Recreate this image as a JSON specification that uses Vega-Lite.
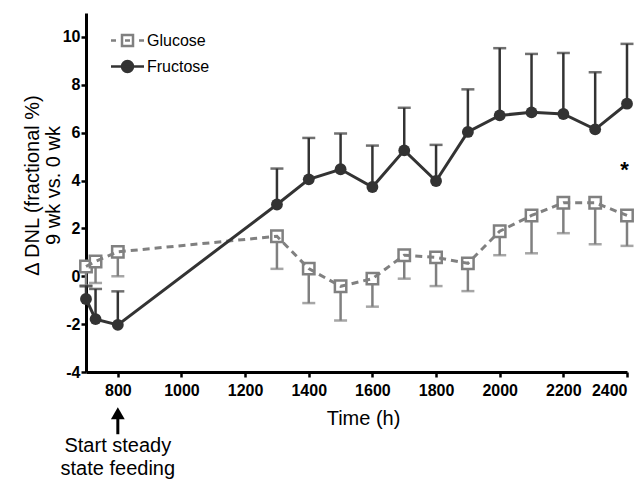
{
  "$schema": "https://vega.github.io/schema/vega-lite/v6.json",
  "autosize": "none",
  "width": 541,
  "height": 359,
  "padding": {"left": 86, "top": 13, "right": 17, "bottom": 109},
  "background": "white",
  "config": {
    "view": {"stroke": null},
    "font": "Liberation Sans",
    "axis": {
      "domainColor": "black", "domainWidth": 3, "tickColor": "black", "tickWidth": 2.5, "tickSize": 5,
      "labelFont": "Liberation Sans", "labelFontSize": 16, "labelFontWeight": "bold", "labelColor": "black",
      "titleFont": "Liberation Sans", "titleFontSize": 20, "titleFontWeight": "normal", "titleColor": "black",
      "grid": false
    }
  },
  "datasets": {
    "dnl": [
      {"series": "Glucose", "time": 700, "mean": 0.41, "err": -0.38},
      {"series": "Glucose", "time": 730, "mean": 0.62, "err": -0.28},
      {"series": "Glucose", "time": 800, "mean": 1.02, "err": 0.0},
      {"series": "Glucose", "time": 1300, "mean": 1.67, "err": 0.31},
      {"series": "Glucose", "time": 1400, "mean": 0.32, "err": -1.12},
      {"series": "Glucose", "time": 1500, "mean": -0.42, "err": -1.85},
      {"series": "Glucose", "time": 1600, "mean": -0.10, "err": -1.27},
      {"series": "Glucose", "time": 1700, "mean": 0.88, "err": -0.10},
      {"series": "Glucose", "time": 1800, "mean": 0.79, "err": -0.41},
      {"series": "Glucose", "time": 1900, "mean": 0.54, "err": -0.62},
      {"series": "Glucose", "time": 2000, "mean": 1.88, "err": 0.88},
      {"series": "Glucose", "time": 2100, "mean": 2.54, "err": 0.96},
      {"series": "Glucose", "time": 2200, "mean": 3.07, "err": 1.80},
      {"series": "Glucose", "time": 2300, "mean": 3.07, "err": 1.34},
      {"series": "Glucose", "time": 2400, "mean": 2.54, "err": 1.27},
      {"series": "Fructose", "time": 700, "mean": -0.95, "err": -0.42},
      {"series": "Fructose", "time": 730, "mean": -1.79, "err": -0.53},
      {"series": "Fructose", "time": 800, "mean": -2.03, "err": -0.63},
      {"series": "Fructose", "time": 1300, "mean": 3.0, "err": 4.5},
      {"series": "Fructose", "time": 1400, "mean": 4.05, "err": 5.78},
      {"series": "Fructose", "time": 1500, "mean": 4.47, "err": 5.96},
      {"series": "Fructose", "time": 1600, "mean": 3.73, "err": 5.46},
      {"series": "Fructose", "time": 1700, "mean": 5.26, "err": 7.04},
      {"series": "Fructose", "time": 1800, "mean": 3.98, "err": 5.49},
      {"series": "Fructose", "time": 1900, "mean": 6.03, "err": 7.81},
      {"series": "Fructose", "time": 2000, "mean": 6.72, "err": 9.53},
      {"series": "Fructose", "time": 2100, "mean": 6.85, "err": 9.29},
      {"series": "Fructose", "time": 2200, "mean": 6.78, "err": 9.33},
      {"series": "Fructose", "time": 2300, "mean": 6.14, "err": 8.52},
      {"series": "Fructose", "time": 2400, "mean": 7.21, "err": 9.71}
    ],
    "star": [{"time": 2392, "y": 4.45, "label": "*"}],
    "note": [{"time": 800, "y": -7.1, "yarrow": -5.72, "ys1": -5.93, "ys2": -6.6, "label": ["Start steady", "state feeding"]}]
  },
  "layer": [
    {
      "data": {"name": "dnl"},
      "transform": [{"filter": "datum.series === 'Glucose'"}],
      "mark": {"type": "rule", "color": "#808080", "strokeWidth": 2.5},
      "encoding": {
        "x": {"field": "time", "type": "quantitative", "scale": {"domain": [700, 2400], "nice": false, "zero": false},
              "axis": {"values": [800, 1000, 1200, 1400, 1600, 1800, 2000, 2200, 2400], "format": "d", "labelPadding": 5, "title": "Time (h)", "titleX": 277, "titleY": 46, "titleBaseline": "middle"}},
        "y": {"field": "mean", "type": "quantitative", "scale": {"domain": [-4, 11], "nice": false, "zero": false},
              "axis": {"values": [-4, -2, 0, 2, 4, 6, 8, 10], "labelExpr": "'' + datum.value", "labelPadding": 1, "title": ["Δ DNL (fractional %)", "9 wk vs. 0 wk"], "titleAngle": -90, "titleX": -54, "titleY": 172, "titleBaseline": "middle", "titleAlign": "center", "titleLineHeight": 21.5}},
        "y2": {"field": "err"}
      }
    },
    {
      "data": {"name": "dnl"},
      "transform": [{"filter": "datum.series === 'Glucose'"}],
      "mark": {"type": "tick", "orient": "horizontal", "color": "#808080", "size": 13, "thickness": 2.5},
      "encoding": {
        "x": {"field": "time", "type": "quantitative"},
        "y": {"field": "err", "type": "quantitative"}
      }
    },
    {
      "data": {"name": "dnl"},
      "transform": [{"filter": "datum.series === 'Fructose'"}],
      "mark": {"type": "rule", "color": "#333333", "strokeWidth": 2.5},
      "encoding": {
        "x": {"field": "time", "type": "quantitative"},
        "y": {"field": "mean", "type": "quantitative"},
        "y2": {"field": "err"}
      }
    },
    {
      "data": {"name": "dnl"},
      "transform": [{"filter": "datum.series === 'Fructose'"}],
      "mark": {"type": "tick", "orient": "horizontal", "color": "#333333", "size": 13, "thickness": 2.5},
      "encoding": {
        "x": {"field": "time", "type": "quantitative"},
        "y": {"field": "err", "type": "quantitative"}
      }
    },
    {
      "data": {"name": "dnl"},
      "transform": [{"filter": "datum.series === 'Glucose'"}],
      "mark": {"type": "point", "shape": "square", "size": 130, "filled": true, "fill": "white", "stroke": "#808080", "strokeWidth": 2.5, "opacity": 1},
      "encoding": {
        "x": {"field": "time", "type": "quantitative"},
        "y": {"field": "mean", "type": "quantitative"}
      }
    },
    {
      "data": {"name": "dnl"},
      "transform": [{"filter": "datum.series === 'Glucose'"}],
      "mark": {"type": "line", "strokeWidth": 3, "color": "#808080", "strokeDash": [7, 5]},
      "encoding": {
        "x": {"field": "time", "type": "quantitative"},
        "y": {"field": "mean", "type": "quantitative"}
      }
    },
    {
      "data": {"name": "dnl"},
      "transform": [{"filter": "datum.series === 'Fructose'"}],
      "mark": {"type": "line", "strokeWidth": 3},
      "encoding": {
        "x": {"field": "time", "type": "quantitative"},
        "y": {"field": "mean", "type": "quantitative"},
        "color": {"field": "series", "type": "nominal",
          "scale": {"domain": ["Glucose", "Fructose"], "range": ["#808080", "#333333"]},
          "legend": {
            "orient": "none", "legendX": 30, "legendY": 16, "title": null, "padding": 0,
            "labelFont": "Liberation Sans", "labelFontSize": 16, "labelColor": "black", "labelOffset": 8,
            "symbolSize": 400, "symbolStrokeWidth": 2.5, "rowPadding": 4,
            "encode": {"symbols": {"update": {
              "shape": {"signal": "datum.value === 'Glucose' ? 'M-1.65,0H-1.15M-0.55,-0.55H0.55V0.55H-0.55ZM-0.25,0H0.25M1.15,0H1.65' : 'M-1.65,0H1.65M0.55,0A0.55,0.55,0,1,1,-0.55,0A0.55,0.55,0,1,1,0.55,0Z'"},
              "fill": {"signal": "datum.value === 'Glucose' ? 'white' : '#333333'"},
              "fillOpacity": {"value": 1},
              "strokeWidth": {"value": 2.5}
            }}}
          }}
      }
    },
    {
      "data": {"name": "dnl"},
      "transform": [{"filter": "datum.series === 'Fructose'"}],
      "mark": {"type": "point", "shape": "circle", "size": 140, "filled": true, "color": "#333333", "opacity": 1},
      "encoding": {
        "x": {"field": "time", "type": "quantitative"},
        "y": {"field": "mean", "type": "quantitative"}
      }
    },
    {
      "data": {"name": "star"},
      "mark": {"type": "text", "fontSize": 22, "fontWeight": "bold", "color": "black", "baseline": "middle", "align": "center"},
      "encoding": {
        "x": {"field": "time", "type": "quantitative"},
        "y": {"field": "y", "type": "quantitative"},
        "text": {"field": "label"}
      }
    },
    {
      "data": {"name": "note"},
      "mark": {"type": "rule", "color": "black", "strokeWidth": 3},
      "encoding": {
        "x": {"field": "time", "type": "quantitative"},
        "y": {"field": "ys1", "type": "quantitative"},
        "y2": {"field": "ys2"}
      }
    },
    {
      "data": {"name": "note"},
      "mark": {"type": "point", "shape": "triangle-up", "size": 190, "filled": true, "color": "black", "opacity": 1},
      "encoding": {
        "x": {"field": "time", "type": "quantitative"},
        "y": {"field": "yarrow", "type": "quantitative"}
      }
    },
    {
      "data": {"name": "note"},
      "mark": {"type": "text", "fontSize": 20, "color": "black", "baseline": "middle", "align": "center", "lineHeight": 23},
      "encoding": {
        "x": {"field": "time", "type": "quantitative"},
        "y": {"field": "y", "type": "quantitative"},
        "text": {"field": "label"}
      }
    }
  ]
}
